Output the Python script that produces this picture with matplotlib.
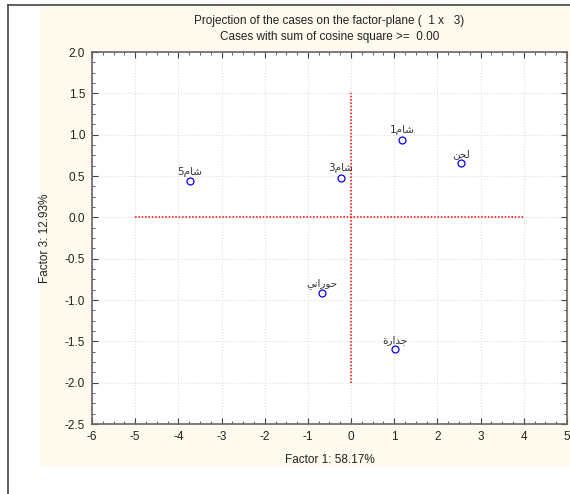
import matplotlib
matplotlib.use("Agg")
import matplotlib.pyplot as plt
from matplotlib.patches import Rectangle
from matplotlib.lines import Line2D
from matplotlib.ticker import MultipleLocator

# case coordinates on factor 1 x factor 3
labels = ["شام1", "لحن", "شام5", "شام3", "حوراني", "جدارة"]
factor1 = [1.18, 2.54, -3.73, -0.24, -0.68, 1.01]
factor3 = [0.94, 0.66, 0.44, 0.48, -0.92, -1.59]

# reference lines drawn by the program
hline_x = [-5, 4]
vline_y = [-2, 1.5]

# arabic shaping: (isolated, final, initial, medial)
forms = {
    "ش": (0xFEB5, 0xFEB6, 0xFEB7, 0xFEB8),
    "ا": (0xFE8D, 0xFE8E, None, None),
    "م": (0xFEE1, 0xFEE2, 0xFEE3, 0xFEE4),
    "ل": (0xFEDD, 0xFEDE, 0xFEDF, 0xFEE0),
    "ح": (0xFEA1, 0xFEA2, 0xFEA3, 0xFEA4),
    "ن": (0xFEE5, 0xFEE6, 0xFEE7, 0xFEE8),
    "و": (0xFEED, 0xFEEE, None, None),
    "ر": (0xFEAD, 0xFEAE, None, None),
    "ي": (0xFEF1, 0xFEF2, 0xFEF3, 0xFEF4),
    "ج": (0xFE9D, 0xFE9E, 0xFE9F, 0xFEA0),
    "د": (0xFEA9, 0xFEAA, None, None),
    "ة": (0xFE93, 0xFE94, None, None),
}


def shape(s):
    ar = [c for c in s if c in forms]
    digits = "".join(c for c in s if c not in forms)
    out = []
    for i, c in enumerate(ar):
        prev = i > 0 and forms[ar[i - 1]][2] is not None
        nxt = i < len(ar) - 1 and forms[c][2] is not None
        f = forms[c]
        if prev and nxt:
            out.append(chr(f[3]))
        elif prev:
            out.append(chr(f[1]))
        elif nxt:
            out.append(chr(f[2]))
        else:
            out.append(chr(f[0]))
    return digits + "".join(reversed(out))


plt.rcParams['font.family'] = ['Liberation Sans', 'DejaVu Sans']
plt.rcParams['axes.unicode_minus'] = False

fig = plt.figure(figsize=(5.7, 4.94), dpi=100)
fig.patch.set_facecolor("white")
fig.patches.append(Rectangle((0.070, 0.055), 0.93, 0.933, transform=fig.transFigure,
                             facecolor="#fffaee", edgecolor="none", zorder=-10))
fig.lines.append(Line2D([0.0132, 0.0132], [0, 0.99], transform=fig.transFigure, color="#444444", lw=1.2))
fig.lines.append(Line2D([0.0132, 1], [0.99, 0.99], transform=fig.transFigure, color="#444444", lw=1.2))

ax = fig.add_axes([0.1614, 0.1417, 0.8333, 0.753])
ax.set_facecolor("white")

ax.plot(hline_x, [0, 0], color="red", ls=(0, (1, 1.2)), lw=1.1, zorder=2)
ax.plot([0, 0], vline_y, color="red", ls=(0, (1, 1.2)), lw=1.1, zorder=2)

ax.plot(factor1, factor3, ls="none", marker="o", markersize=5, markerfacecolor="none",
        markeredgecolor="blue", markeredgewidth=0.9, zorder=3)
for x, y, s in zip(factor1, factor3, labels):
    ax.annotate(shape(s), (x, y), xytext=(0, 3), textcoords="offset points",
                ha="center", va="bottom", fontsize=7.5, color="#333333", family=["DejaVu Sans"])

ax.set_xlim(-6, 5)
ax.set_ylim(-2.5, 2.0)
ax.xaxis.set_major_locator(MultipleLocator(1))
ax.xaxis.set_minor_locator(MultipleLocator(0.25))
ax.yaxis.set_major_locator(MultipleLocator(0.5))
ax.yaxis.set_minor_locator(MultipleLocator(0.125))
ax.yaxis.set_major_formatter(matplotlib.ticker.FormatStrFormatter("%.1f"))
ax.tick_params(which="both", direction="in", top=True, right=True, color="#444444",
               labelsize=8.5, labelcolor="#222222")
ax.tick_params(which="major", length=4, pad=5)
ax.tick_params(which="minor", length=2)
ax.grid(True, which="major", color="#dddddd", ls=":", lw=0.8)
for sp in ax.spines.values():
    sp.set_color("#666666")
    sp.set_linewidth(1.2)

ax.set_xlabel("Factor 1: 58.17%", fontsize=8.5, color="#222222", labelpad=8)
ax.set_ylabel("Factor 3: 12.93%", fontsize=8.5, color="#222222", labelpad=10)

fig.text(0.578, 0.958, "Projection of the cases on the factor-plane (  1 x   3)",
         ha="center", va="center", fontsize=8.5, color="#222222")
fig.text(0.578, 0.925, "Cases with sum of cosine square >=  0.00",
         ha="center", va="center", fontsize=8.5, color="#222222")

fig.savefig("out.png", dpi=100)
